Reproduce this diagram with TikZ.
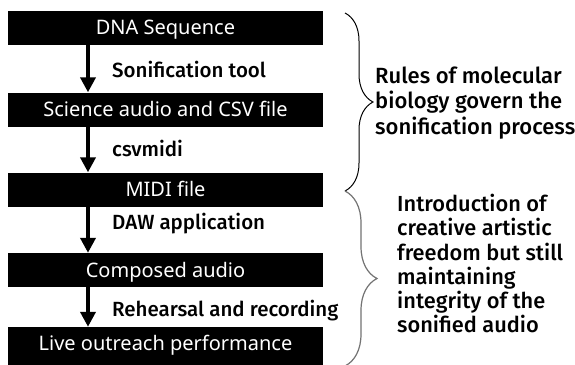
\documentclass[tikz,border=0pt]{standalone}
\usepackage{fontspec}
\setmainfont{Noto Sans}
\IfFontExistsTF{Fira Sans Medium}{\newfontfamily\labelfont{Fira Sans Medium}}{\newfontfamily\labelfont{Fira Sans}}
\usetikzlibrary{arrows.meta,decorations.pathreplacing}
\begin{document}
\begin{tikzpicture}[x=1bp,y=-1bp,
  stage/.style={fill=black, text=white, inner sep=0pt, minimum width=315bp, minimum height=34bp,
    text height=14bp, text depth=0bp, font=\fontsize{20bp}{22bp}\selectfont},
  flow/.style={-{Triangle[length=15bp,width=15bp]}, line width=4bp},
  lbl/.style={anchor=base west, inner sep=0pt, font=\labelfont\fontsize{20.5bp}{24bp}\selectfont},
  note/.style={anchor=base west, inner sep=0pt, font=\labelfont\fontsize{22bp}{25.5bp}\selectfont},
  bracedeco/.style={decorate, decoration={brace, amplitude=#1}},
]
\useasboundingbox (0,0) rectangle (575,364);
\fill[white] (0,0) rectangle (575,364);
% stages
\node[stage] (b1) at (165.5,27.5) {DNA Sequence};
\node[stage] (b2) at (165.5,109.5) {Science audio and CSV file};
\node[stage] (b3) at (165.5,189.5) {MIDI file};
\node[stage] (b4) at (165.5,270) {Composed audio};
\node[stage, minimum height=40bp, text height=6bp] (b5) at (165.5,347) {Live outreach performance};
% arrows
\draw[flow] ([xshift=-77.5bp]b1.south) -- ([xshift=-77.5bp]b2.north);
\draw[flow] ([xshift=-77.5bp]b2.south) -- ([xshift=-77.5bp]b3.north);
\draw[flow] ([xshift=-77.5bp]b3.south) -- ([xshift=-77.5bp]b4.north);
\draw[flow] ([xshift=-77.5bp]b4.south) -- ([xshift=-77.5bp]b5.north);
% step labels
\node[lbl] (l1) at (112,77) {Sonification tool};
\node[lbl] (l2) at (112,156.5) {csvmidi};
\node[lbl] (l3) at (112,229) {DAW application};
\node[lbl] (l4) at (112,316) {Rehearsal and recording};
% braces
\coordinate (r1top) at (345,13);
\coordinate (r1bot) at (345,191);
\coordinate (r2top) at (345,191);
\coordinate (r2bot) at (345,366);
\draw[bracedeco=28bp, line width=1bp, black] (r1top) -- (r1bot);
\draw[bracedeco=32bp, line width=1.2bp, black!55] (r2top) -- (r2bot);
% notes
\node[note] (n1) at (375,83) {\begin{tabular}[t]{@{}l@{}}Rules of molecular\\biology govern the\\sonification process\end{tabular}};
\node[note, font=\labelfont\fontsize{21.8bp}{23bp}\selectfont] (n2) at (397,211.5) {\begin{tabular}[t]{@{}l@{}}Introduction of\\creative artistic\\freedom but still\\maintaining\\integrity of the\\sonified audio\end{tabular}};
\end{tikzpicture}
\end{document}
